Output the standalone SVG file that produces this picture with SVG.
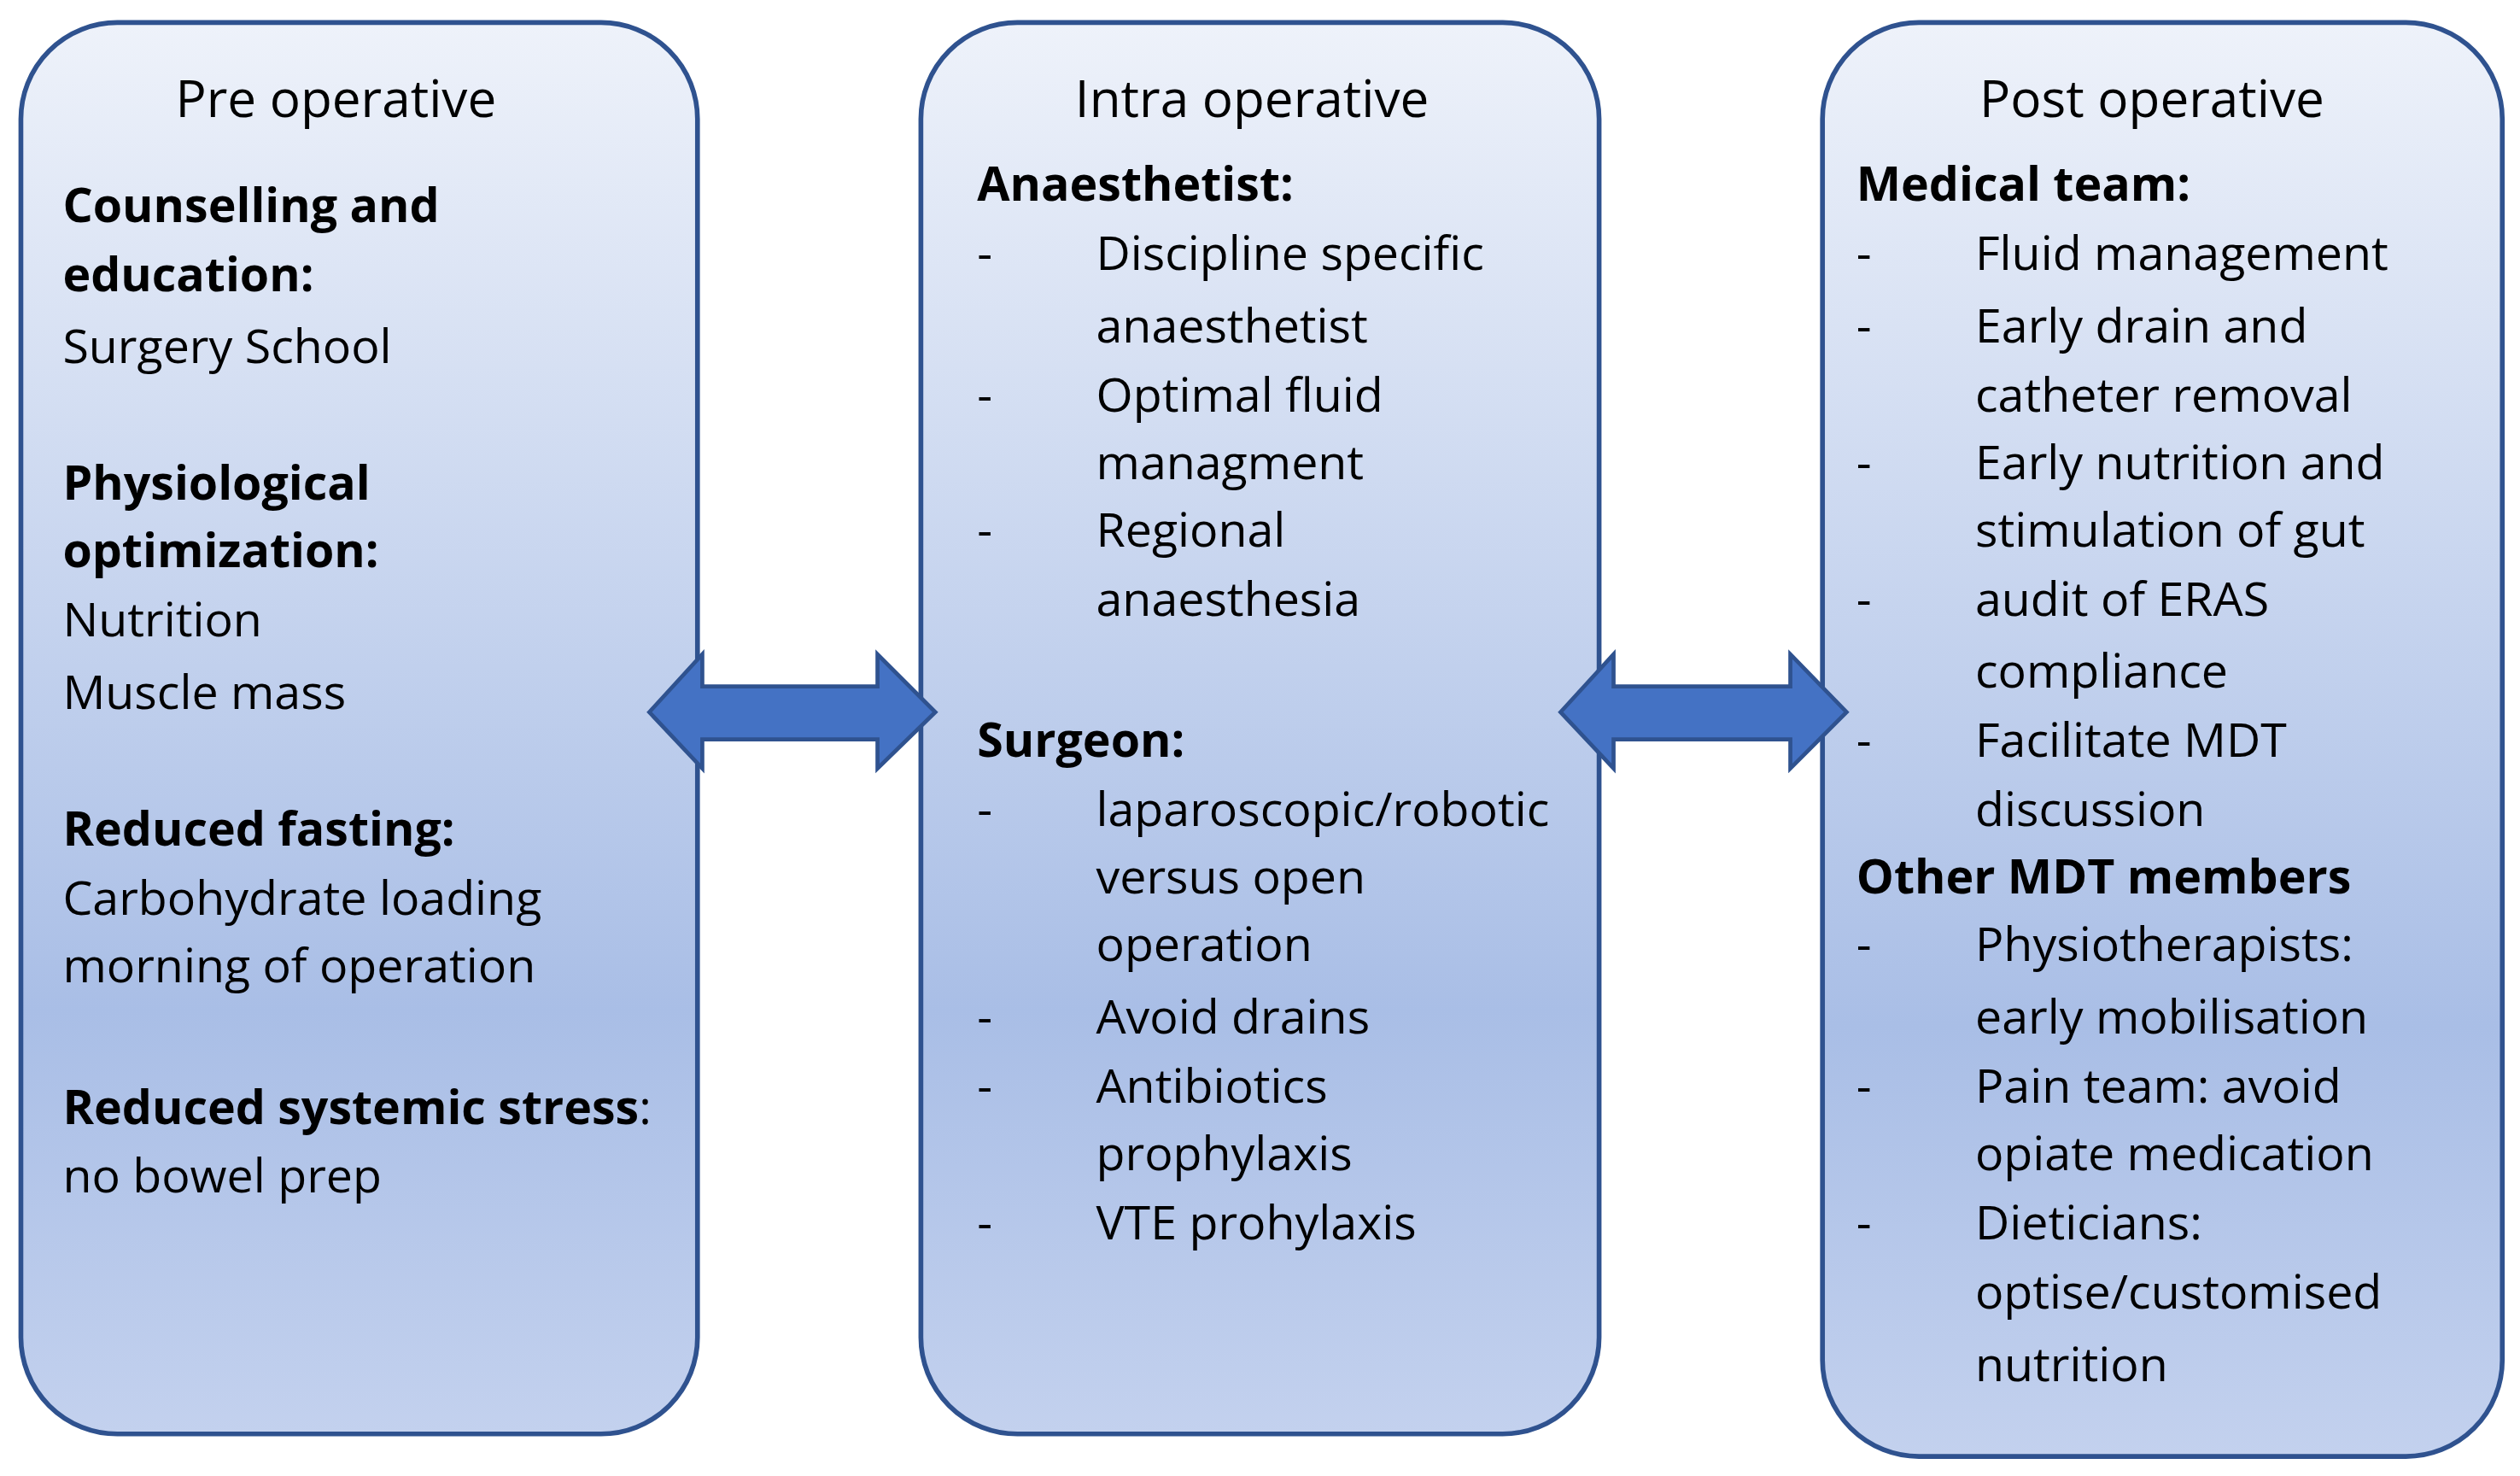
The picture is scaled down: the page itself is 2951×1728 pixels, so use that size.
<svg xmlns="http://www.w3.org/2000/svg" width="2951" height="1728" viewBox="0 0 2951 1728">
<defs>
<linearGradient id="g" x1="0" y1="0" x2="0" y2="1">
<stop offset="0" stop-color="#eef2fa"/><stop offset="0.7" stop-color="#a9bee6"/><stop offset="1" stop-color="#c3d1ee"/>
</linearGradient>
<style>
.box{fill:url(#g);stroke:#2f528f;stroke-width:3}
.arr{fill:#4472c4;stroke:#2f528f;stroke-width:2.5}
text{font-family:"Open Sans","Liberation Sans",sans-serif;font-size:29.5px;fill:#000}
.t{font-size:32px;text-anchor:middle}
.b{font-weight:bold}
</style>
</defs>
<rect width="2951" height="1728" fill="#fff"/>
<g transform="scale(1.882)">
<g id="pre">
<rect class="box" x="13" y="14" width="421" height="878" rx="60"/>
<text class="t" x="209" y="73">Pre operative</text>
<text class="b" x="39" y="138">Counselling and</text>
<text class="b" x="39" y="181">education:</text>
<text x="39" y="226">Surgery School</text>
<text class="b" x="39" y="311">Physiological</text>
<text class="b" x="39" y="353">optimization:</text>
<text x="39" y="396">Nutrition</text>
<text x="39" y="441">Muscle mass</text>
<text class="b" x="39" y="526">Reduced fasting:</text>
<text x="39" y="569">Carbohydrate loading</text>
<text x="39" y="611">morning of operation</text>
<text x="39" y="699"><tspan class="b">Reduced systemic stress</tspan>:</text>
<text x="39" y="742">no bowel prep</text>
</g>
<g id="intra">
<rect class="box" x="573" y="14" width="422" height="878" rx="60"/>
<text class="t" x="779" y="73">Intra operative</text>
<text class="b" x="608" y="125">Anaesthetist:</text>
<text x="608" y="168">-</text><text x="682" y="168">Discipline specific</text>
<text x="682" y="213">anaesthetist</text>
<text x="608" y="256">-</text><text x="682" y="256">Optimal fluid</text>
<text x="682" y="298">managment</text>
<text x="608" y="340">-</text><text x="682" y="340">Regional</text>
<text x="682" y="383">anaesthesia</text>
<text class="b" x="608" y="471">Surgeon:</text>
<text x="608" y="514">-</text><text x="682" y="514">laparoscopic/robotic</text>
<text x="682" y="556">versus open</text>
<text x="682" y="598">operation</text>
<text x="608" y="643">-</text><text x="682" y="643">Avoid drains</text>
<text x="608" y="686">-</text><text x="682" y="686">Antibiotics</text>
<text x="682" y="728">prophylaxis</text>
<text x="608" y="771">-</text><text x="682" y="771">VTE prohylaxis</text>
</g>
<g id="post">
<rect class="box" x="1134" y="14" width="423" height="892" rx="60"/>
<text class="t" x="1339" y="73">Post operative</text>
<text class="b" x="1155" y="125">Medical team:</text>
<text x="1155" y="168">-</text><text x="1229" y="168">Fluid management</text>
<text x="1155" y="213">-</text><text x="1229" y="213">Early drain and</text>
<text x="1229" y="256">catheter removal</text>
<text x="1155" y="298">-</text><text x="1229" y="298">Early nutrition and</text>
<text x="1229" y="340">stimulation of gut</text>
<text x="1155" y="383">-</text><text x="1229" y="383">audit of ERAS</text>
<text x="1229" y="428">compliance</text>
<text x="1155" y="471">-</text><text x="1229" y="471">Facilitate MDT</text>
<text x="1229" y="514">discussion</text>
<text class="b" x="1155" y="556">Other MDT members</text>
<text x="1155" y="598">-</text><text x="1229" y="598">Physiotherapists:</text>
<text x="1229" y="643">early mobilisation</text>
<text x="1155" y="686">-</text><text x="1229" y="686">Pain team: avoid</text>
<text x="1229" y="728">opiate medication</text>
<text x="1155" y="771">-</text><text x="1229" y="771">Dieticians:</text>
<text x="1229" y="814">optise/customised</text>
<text x="1229" y="859">nutrition</text>
</g>
<g id="connectors">
<polygon class="arr" points="404,443 437,407 437,427 546,427 546,407 582,443 546,478 546,460 437,460 437,478"/>
<polygon class="arr" points="971,443 1004,407 1004,427 1114,427 1114,407 1149,443 1114,478 1114,460 1004,460 1004,478"/>
</g>
</g>
</svg>
